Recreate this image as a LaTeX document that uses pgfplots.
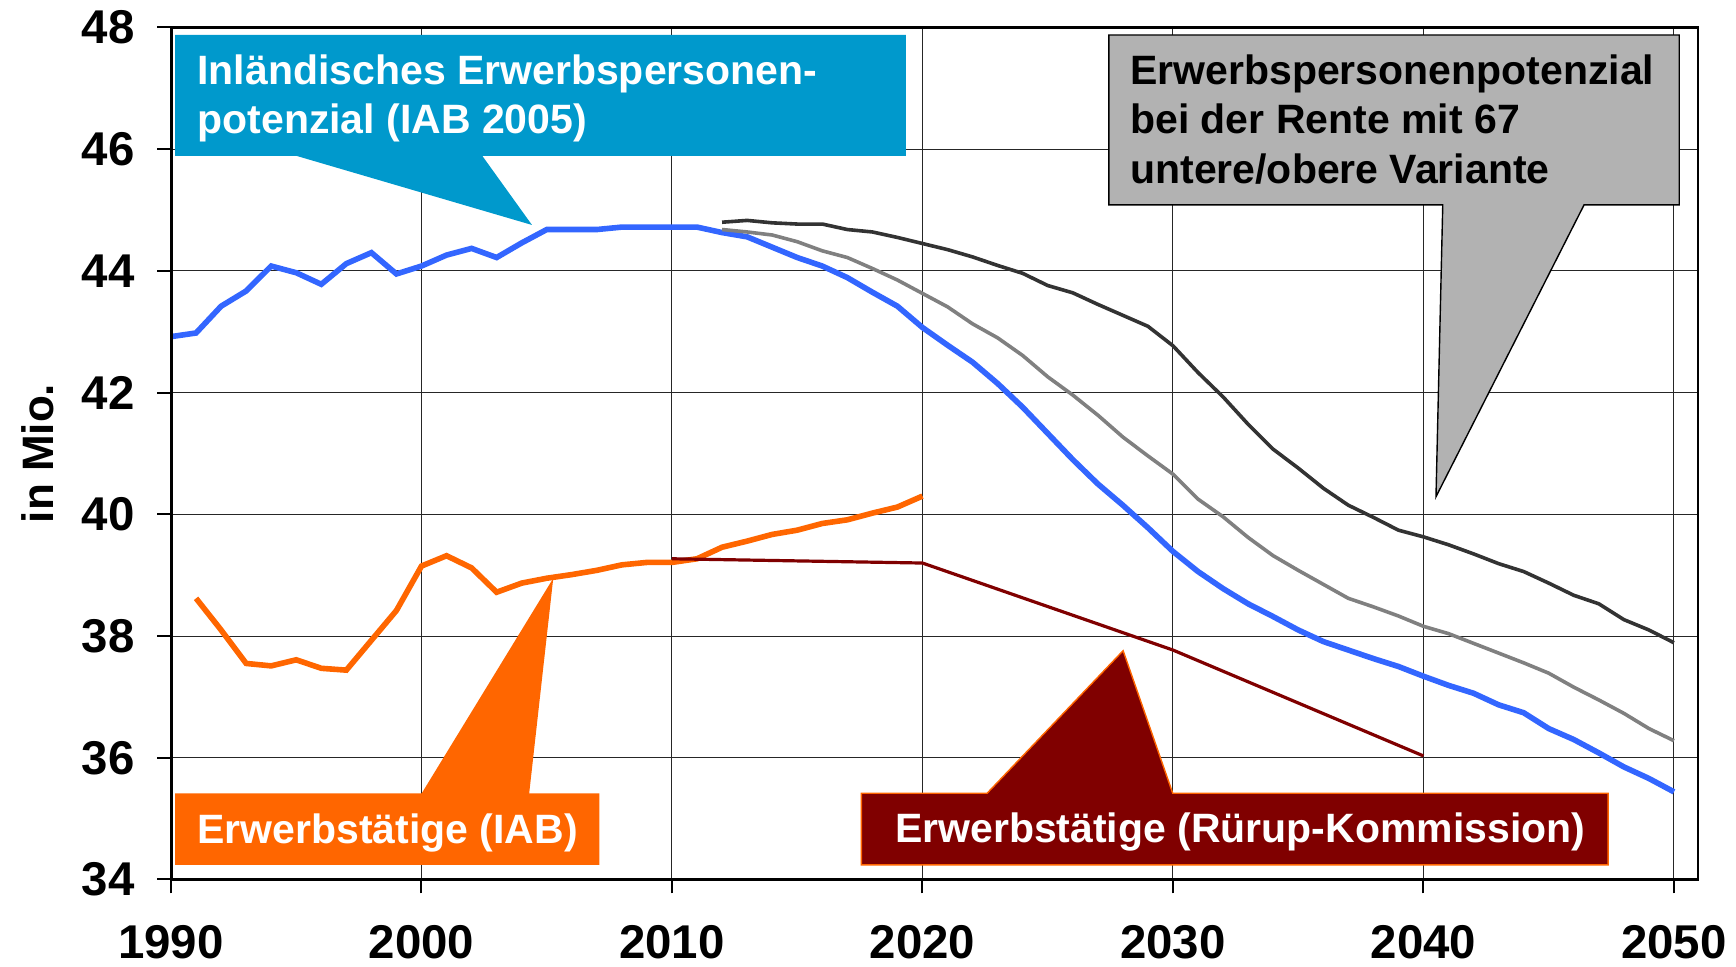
\documentclass[border=0pt]{standalone}
\usepackage{fontspec}
\setmainfont{Liberation Sans}
\usepackage{pgfplots}
\usepackage{pgfplotstable}
\pgfplotsset{compat=1.18}
\definecolor{cBlue}{HTML}{3366FF}
\definecolor{cOrange}{HTML}{FF6600}
\definecolor{cDark}{HTML}{333333}
\definecolor{cGray}{HTML}{808080}
\definecolor{cRed}{HTML}{800000}
\definecolor{cCyan}{HTML}{0099CC}
\definecolor{cBox}{HTML}{B2B2B2}
\newcommand{\cfont}{\bfseries\fontsize{20.5pt}{24.5pt}\selectfont}

\pgfplotstableread{
year val
1990 42.92
1991 42.98
1992 43.42
1993 43.67
1994 44.08
1995 43.97
1996 43.78
1997 44.12
1998 44.30
1999 43.95
2000 44.08
2001 44.26
2002 44.37
2003 44.22
2004 44.46
2005 44.68
2006 44.68
2007 44.68
2008 44.72
2009 44.72
2010 44.72
2011 44.72
2012 44.63
2013 44.56
2014 44.39
2015 44.22
2016 44.08
2017 43.89
2018 43.65
2019 43.42
2020 43.07
2021 42.78
2022 42.50
2023 42.15
2024 41.76
2025 41.33
2026 40.90
2027 40.50
2028 40.15
2029 39.78
2030 39.39
2031 39.06
2032 38.78
2033 38.53
2034 38.32
2035 38.10
2036 37.91
2037 37.77
2038 37.63
2039 37.50
2040 37.34
2041 37.19
2042 37.06
2043 36.87
2044 36.74
2045 36.48
2046 36.30
2047 36.08
2048 35.85
2049 35.66
2050 35.44
}\blueTab

\pgfplotstableread{
year val
2012 44.68
2013 44.64
2014 44.59
2015 44.48
2016 44.33
2017 44.22
2018 44.04
2019 43.85
2020 43.63
2021 43.41
2022 43.13
2023 42.90
2024 42.61
2025 42.26
2026 41.96
2027 41.63
2028 41.27
2029 40.96
2030 40.66
2031 40.25
2032 39.96
2033 39.62
2034 39.32
2035 39.08
2036 38.85
2037 38.62
2038 38.48
2039 38.33
2040 38.16
2041 38.04
2042 37.88
2043 37.72
2044 37.56
2045 37.39
2046 37.16
2047 36.95
2048 36.73
2049 36.48
2050 36.28
}\grayTab

\pgfplotstableread{
year val
2012 44.80
2013 44.83
2014 44.79
2015 44.77
2016 44.77
2017 44.68
2018 44.64
2019 44.55
2020 44.45
2021 44.35
2022 44.23
2023 44.09
2024 43.96
2025 43.76
2026 43.64
2027 43.45
2028 43.27
2029 43.09
2030 42.77
2031 42.33
2032 41.93
2033 41.48
2034 41.07
2035 40.76
2036 40.43
2037 40.15
2038 39.95
2039 39.74
2040 39.63
2041 39.50
2042 39.35
2043 39.19
2044 39.06
2045 38.87
2046 38.67
2047 38.53
2048 38.27
2049 38.10
2050 37.89
}\darkTab

\pgfplotstableread{
year val
1991 38.62
1992 38.10
1993 37.55
1994 37.51
1995 37.61
1996 37.47
1997 37.44
1998 37.93
1999 38.42
2000 39.15
2001 39.32
2002 39.12
2003 38.72
2004 38.87
2005 38.95
2006 39.01
2007 39.08
2008 39.17
2009 39.21
2010 39.21
2011 39.27
2012 39.46
2013 39.56
2014 39.67
2015 39.74
2016 39.85
2017 39.91
2018 40.02
2019 40.12
2020 40.30
}\orangeTab

\pgfplotstableread{
year val
2010 39.27
2020 39.20
2030 37.77
2040 36.03
}\ruerupTab

\begin{document}
\begin{tikzpicture}
\useasboundingbox (0,0) rectangle (868pt,483.5pt);
\begin{axis}[
  at={(85.5pt,43.75pt)}, anchor=south west,
  scale only axis, width=763.5pt, height=426pt,
  xmin=1990, xmax=2050.96, ymin=34, ymax=48,
  xtick={1990,2000,...,2050}, ytick={34,36,...,48},
  grid=major, major grid style={black!85, line width=0.5pt},
  tick align=outside, tick pos=left, major tick length=7pt,
  tick style={black, line width=1pt},
  axis line style={black, line width=1.1pt},
  /pgf/number format/1000 sep={},
  /pgf/number format/assume math mode=true,
  ticklabel style={font=\bfseries\fontsize{23.7pt}{28pt}\selectfont, inner sep=0pt},
  xticklabel style={anchor=north, yshift=-15.8pt},
  yticklabel style={anchor=east, xshift=-11pt},
  every axis y label/.style={at={(axis description cs:-0.0874,0.5)}, rotate=90, anchor=center, font=\bfseries\fontsize{22pt}{26pt}\selectfont},
  ylabel={in Mio.},
  clip=false,
]
\addplot[cBlue, line width=2.8pt] table[x=year,y=val] {\blueTab};
\addplot[cGray, line width=1.8pt] table[x=year,y=val] {\grayTab};
\addplot[cDark, line width=1.8pt] table[x=year,y=val] {\darkTab};
\addplot[cOrange, line width=2.8pt] table[x=year,y=val] {\orangeTab};
\addplot[cRed, line width=1.6pt] table[x=year,y=val] {\ruerupTab};

\draw[black, line width=1.5pt] (rel axis cs:0,1) -- (rel axis cs:0,0);

% callout: Inlaendisches Erwerbspersonenpotenzial
\fill[cCyan] (axis cs:1990.16,47.877) -- (axis cs:2019.34,47.877) -- (axis cs:2019.34,45.889)
  -- (axis cs:2002.43,45.889) -- (axis cs:2004.41,44.755) -- (axis cs:1995.02,45.889)
  -- (axis cs:1990.16,45.889) -- cycle;
\node[anchor=base west, inner sep=0pt, text=white, font=\cfont] at (axis cs:1991.04,47.055) {Inländisches Erwerbspersonen-};
\node[anchor=base west, inner sep=0pt, text=white, font=\cfont] at (axis cs:1991.04,46.262) {potenzial (IAB 2005)};

% callout: Rente mit 67
\filldraw[fill=cBox, draw=black, line width=0.7pt] (axis cs:2027.44,47.877) -- (axis cs:2050.21,47.877) -- (axis cs:2050.21,45.084)
  -- (axis cs:2046.41,45.084) -- (axis cs:2040.50,40.29) -- (axis cs:2040.77,45.084)
  -- (axis cs:2027.44,45.084) -- cycle;
\node[anchor=base west, inner sep=0pt, text=black, font=\cfont] at (axis cs:2028.28,47.055) {Erwerbspersonenpotenzial};
\node[anchor=base west, inner sep=0pt, text=black, font=\cfont] at (axis cs:2028.28,46.250) {bei der Rente mit 67};
\node[anchor=base west, inner sep=0pt, text=black, font=\cfont] at (axis cs:2028.28,45.440) {untere/obere Variante};

% callout: Erwerbstaetige (IAB)
\fill[cOrange] (axis cs:1990.16,35.417) -- (axis cs:2000.01,35.417) -- (axis cs:2005.26,38.95)
  -- (axis cs:2004.30,35.417) -- (axis cs:2007.10,35.417) -- (axis cs:2007.10,34.24)
  -- (axis cs:1990.16,34.24) -- cycle;
\node[anchor=base west, inner sep=0pt, text=white, font=\cfont] at (axis cs:1991.04,34.584) {Erwerbstätige (IAB)};

% callout: Ruerup-Kommission
\filldraw[fill=cRed, draw=cOrange, line width=0.7pt] (axis cs:2017.56,35.417) -- (axis cs:2022.58,35.417) -- (axis cs:2028.01,37.76)
  -- (axis cs:2029.99,35.417) -- (axis cs:2047.37,35.417) -- (axis cs:2047.37,34.24)
  -- (axis cs:2017.56,34.24) -- cycle;
\node[anchor=base west, inner sep=0pt, text=white, font=\cfont] at (axis cs:2018.89,34.605) {Erwerbstätige (Rürup-Kommission)};
\end{axis}
\end{tikzpicture}
\end{document}
